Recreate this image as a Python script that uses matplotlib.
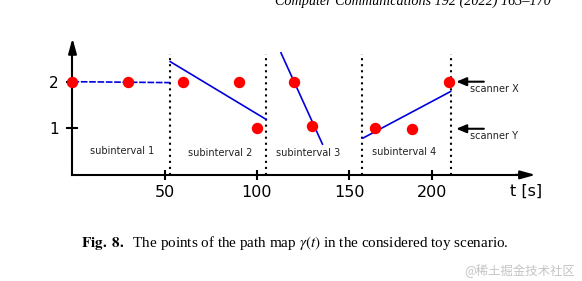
import matplotlib
matplotlib.use("Agg")
import matplotlib.pyplot as plt

# data (t in seconds, y = scanner level)
t_points = [0, 30, 60, 90, 100, 120, 130, 164, 184, 204]
y_points = [2, 2, 2, 2, 1, 2, 1.05, 1, 0.98, 2]

bound_t = [53, 105, 157, 205]

fit_t = [(0, 53), (53, 105), (113, 135.5), (157.5, 205)]
fit_y = [(2.0, 1.98), (2.43, 1.19), (2.62, 0.66), (0.79, 1.79)]
fit_dash = [(0, (4, 1)), "solid", "solid", "solid"]

sub_labels = ["subinterval 1", "subinterval 2", "subinterval 3", "subinterval 4"]
sub_x = [26.7, 80, 127.6, 179.8]
sub_y = [0.51, 0.48, 0.46, 0.50]

x_ticks = [50, 100, 150, 195]
x_tick_labels = ["50", "100", "150", "200"]
y_ticks = [1, 2]
y_tick_labels = ["1", "2"]

scanner_labels = ["scanner X", "scanner Y"]
scanner_y = [2.0, 0.99]

plt.rcParams["mathtext.fontset"] = "stix"

fig = plt.figure(figsize=(5.82, 2.81), dpi=100)
ax = fig.add_axes([0, 0, 1, 1])
ax.set_xlim(-39.3, 276.2)
ax.set_ylim(-2.277, 3.753)
ax.patch.set_visible(False)

for side in ("top", "right"):
    ax.spines[side].set_visible(False)
ax.spines["left"].set_position(("data", 0))
ax.spines["bottom"].set_position(("data", 0))
ax.spines["left"].set_bounds(0, 2.8)
ax.spines["bottom"].set_bounds(0, 245)
ax.spines["left"].set_linewidth(1.5)
ax.spines["bottom"].set_linewidth(1.5)

# arrow heads of the axes
ax.annotate("", xy=(0, 2.93), xytext=(0, 2.7),
            arrowprops=dict(arrowstyle="-|>,head_length=0.9,head_width=0.25",
                            color="black", lw=1.5, shrinkA=0, shrinkB=0))
ax.annotate("", xy=(251, 0), xytext=(240, 0),
            arrowprops=dict(arrowstyle="-|>,head_length=0.9,head_width=0.25",
                            color="black", lw=1.5, shrinkA=0, shrinkB=0))

ax.set_xticks(x_ticks)
ax.set_xticklabels(x_tick_labels)
ax.set_yticks(y_ticks)
ax.set_yticklabels(y_tick_labels)
ax.tick_params(axis="x", direction="inout", length=6.5, width=1.5, pad=4, labelsize=11.5)
ax.tick_params(axis="y", direction="inout", length=8, width=1.5, pad=6, labelsize=11)

# subinterval boundaries
for b in bound_t:
    ax.plot([b, b], [0, 2.59], color="black", lw=1.5, linestyle=(0, (1, 1.9)))

# per-subinterval fits
for (t0, t1), (y0, y1), ls in zip(fit_t, fit_y, fit_dash):
    ax.plot([t0, t1], [y0, y1], color="#0000dd", lw=1.2, linestyle=ls)

ax.plot(t_points, y_points, linestyle="none", marker="o", markersize=7.2,
        color="#ff0000", clip_on=False, zorder=5)

for lab, x, y in zip(sub_labels, sub_x, sub_y):
    ax.text(x, y, lab, ha="center", va="center", fontsize=7, color="#222222")

for lab, y in zip(scanner_labels, scanner_y):
    ax.annotate("", xy=(208, y), xytext=(223, y),
                arrowprops=dict(arrowstyle="-|>,head_length=0.6,head_width=0.25",
                                color="black", lw=1.5, shrinkA=0, shrinkB=0))
    ax.text(215.6, y - 0.15, lab, ha="left", va="center", fontsize=7, color="#222222")

ax.text(246, -0.36, "t [s]", ha="center", va="center", fontsize=11.5)

fig.text(0.71, 1 - 5 / 281, "Computer Communications 192 (2022) 163\u2013170",
         ha="center", va="baseline", fontsize=10.2, style="italic",
         family="Liberation Serif")
fig.text(0.506, 1 - 243 / 281,
         r"$\mathbf{Fig.\ 8.}$  The points of the path map $\mathit{\gamma(t)}$ in the considered toy scenario.",
         ha="center", va="center", fontsize=10.9, family="Liberation Serif")
fig.text(0.893, 1 - 271 / 281, "@稀土掘金技术社区", ha="center", va="center",
         fontsize=8.9, color="#c4c4c4", family=["Noto Sans CJK SC", "DejaVu Sans"])

fig.savefig("out.png", dpi=100)
